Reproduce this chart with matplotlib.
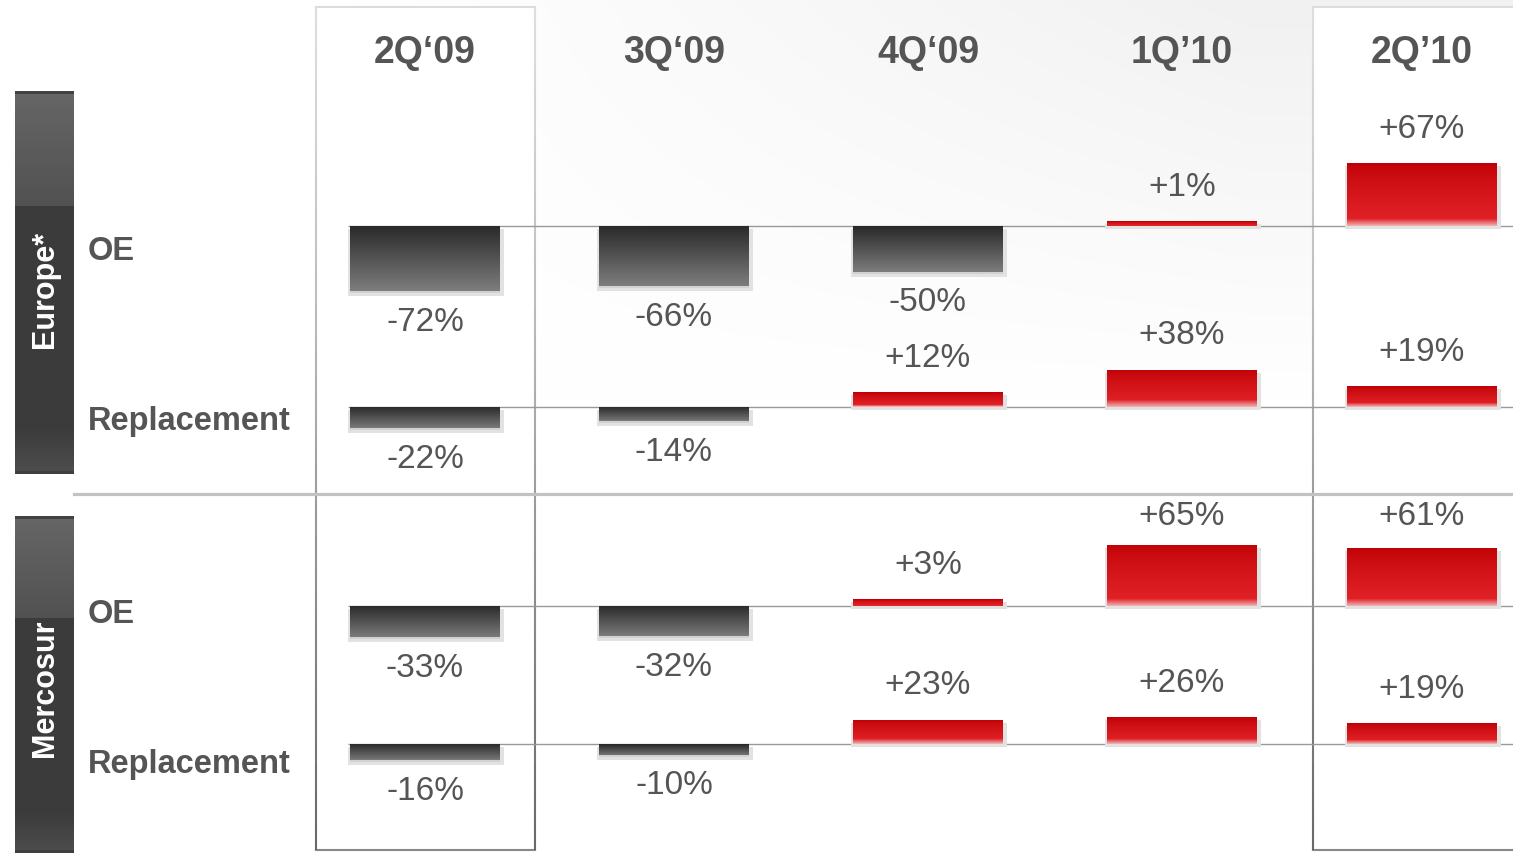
import numpy as np
import matplotlib
matplotlib.use("Agg")
import matplotlib.pyplot as plt
from matplotlib.patches import Rectangle
from matplotlib.collections import LineCollection

plt.rcParams['font.family'] = ['Liberation Sans', 'DejaVu Sans']

quarters = ["2Q\u201809", "3Q\u201809", "4Q\u201809", "1Q\u201910", "2Q\u201910"]
regions = ["Europe*", "Mercosur"]
segments = ["OE", "Replacement"]

europe_oe = [-72, -66, -50, 1, 67]
europe_repl = [-22, -14, 12, 38, 19]
mercosur_oe = [-33, -32, 3, 65, 61]
mercosur_repl = [-16, -10, 23, 26, 19]

W, H = 1513, 854
fig = plt.figure(figsize=(W / 100, H / 100), dpi=100)
ax = fig.add_axes([0, 0, 1, 1])
ax.set_xlim(0, W)
ax.set_ylim(H, 0)
ax.axis("off")

TXT = "#555555"

# soft grey wash behind the grid
yy, xx = np.mgrid[0:H:2, 0:W:2]
t = np.clip((1 - yy / 400.0), 0, 1) * np.clip((xx - 350) / 900.0, 0, 1)
bg = 1 - 0.055 * t
ax.imshow(np.dstack([bg, bg, bg]), extent=(0, W, H, 0), origin="upper",
          aspect="auto", zorder=0)

# highlighted columns
col_x = np.array([425, 674, 928, 1182, 1422])
for x0, x1 in [(316, 535), (1313, 1525)]:
    ax.add_patch(Rectangle((x0, 8), x1 - x0, 843, facecolor="white",
                           edgecolor="none", zorder=1))
    ax.plot([x0, x1], [8, 8], color="#dcdcdc", lw=1.5, zorder=2)
    ax.plot([x0, x1], [851, 851], color="#888888", lw=1.5, zorder=2)
    ys = np.linspace(8, 851, 60)
    cols = [plt.cm.Greys(0.22 + 0.45 * (y / 851)) for y in ys[:-1]]
    for xe in (x0, x1):
        segs = [[(xe, ys[i]), (xe, ys[i + 1])] for i in range(len(ys) - 1)]
        ax.add_collection(LineCollection(segs, colors=cols, lw=1.5, zorder=2))

# separator between regions
ax.plot([74, W], [495, 495], color="#c2c2c2", lw=2.3, zorder=2)


def side_box(y0, y1, label, ty):
    n = int(y1 - y0)
    v = np.full(n, 0.235)
    i = np.arange(n)
    top = i < n * 0.3
    v[top] = 0.40 - 0.08 * (i[top] / (n * 0.3))
    v[:3] = 0.26
    bot = i > n * 0.88
    v[bot] = 0.235 + 0.07 * ((i[bot] - n * 0.88) / (n * 0.12))
    v[-3:] = 0.25
    img = np.stack([v, v, v], axis=1)[:, None, :].repeat(2, axis=1)
    ax.imshow(img, extent=(15, 74, y1, y0), origin="upper", aspect="auto", zorder=2)
    ax.text(45, ty, label, rotation=90, color="white", fontsize=22,
            fontweight="bold", ha="center", va="center", zorder=3)


side_box(92, 475, regions[0], 290)
side_box(517, 854, regions[1], 688)

for y, seg in [(251, segments[0]), (422, segments[1]), (615, segments[0]), (765, segments[1])]:
    ax.text(88, y, seg, color=TXT, fontsize=23.5, fontweight="bold",
            ha="left", va="center", zorder=3)

for x, q in zip(col_x, quarters):
    ax.text(x, 53, q, color=TXT, fontsize=27, fontweight="bold",
            ha="center", va="center", zorder=3)

# bars: (baseline, values, highest allowed label position)
rows = [(227, europe_oe, 0), (408, europe_repl, 0),
        (607, mercosur_oe, 517), (745, mercosur_repl, 0)]
bar_w = 150
scale = 0.88

for base, vals, ceil in rows:
    ax.hlines(base, 348, W, color="#999999", lw=1, zorder=3)
    hs = [4 + scale * abs(v) for v in vals]
    signed = [-h if v > 0 else h for h, v in zip(hs, vals)]
    # shadow under each bar
    ax.bar(col_x + 0.5, signed, bottom=base + 3, width=bar_w + 6,
           color="#e2e2e2", zorder=4)
    bars = ax.bar(col_x, signed, bottom=base, width=bar_w, color="none", zorder=5)
    for b, v, h in zip(bars, vals, hs):
        x0 = b.get_x()
        y_top = min(b.get_y(), b.get_y() + b.get_height())
        n = max(int(round(h)), 2)
        s = np.linspace(0, 1, n)
        if v > 0:
            c0 = np.array([0.75, 0.0, 0.02])
            c1 = np.array([0.89, 0.14, 0.16])
            rgb = c0 + (c1 - c0) * s[:, None] ** 0.7
            fade = min(8, n // 4)
            if fade > 1:
                k = np.linspace(0, 0.75, fade)[:, None]
                rgb[-fade:] = rgb[-fade:] * (1 - k) + np.array([0.96, 0.85, 0.85]) * k
        else:
            c0 = np.array([0.16, 0.16, 0.16])
            c1 = np.array([0.50, 0.50, 0.50])
            rgb = c0 + (c1 - c0) * s[:, None]
            rgb[-2:] = 0.82
        img = rgb[:, None, :].repeat(2, axis=1)
        im = ax.imshow(img, extent=(x0, x0 + bar_w, y_top + h, y_top),
                       origin="upper", aspect="auto", zorder=5)
        im.set_clip_path(b)
        if v > 0:
            ly, lab = max(y_top - 35, ceil), f"+{v}%"
        else:
            ly, lab = y_top + h + 28, f"-{abs(v)}%"
        ax.text(b.get_x() + bar_w / 2, ly, lab, color=TXT, fontsize=24,
                ha="center", va="center", zorder=6)

fig.savefig("out.png", dpi=100)
